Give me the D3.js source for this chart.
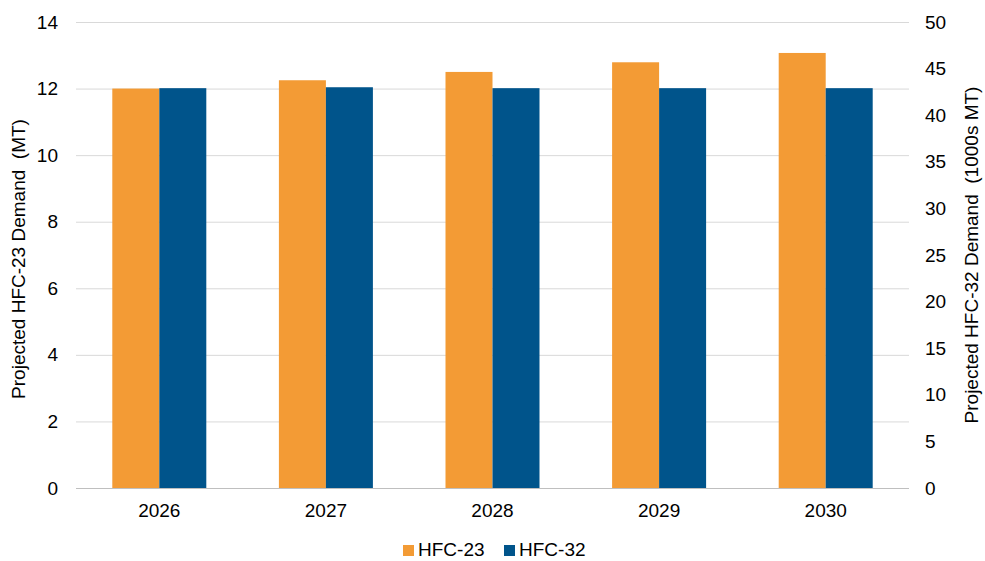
<!DOCTYPE html>
<html lang="en">
<head>
  <script src="https://d3js.org/d3.v7.min.js"></script>
  <style>
    body { margin: 0; background: #fff; }
    text { font-family: "Liberation Sans", Arial, sans-serif; fill: #000; }
  </style>
</head>
<body>
  <div id="chart"></div>
  <script>
    // Data
    const years = ["2026", "2027", "2028", "2029", "2030"];
    const hfc23 = [12.0, 12.25, 12.5, 12.79, 13.07];   // MT, left axis
    const hfc32 = [42.9, 43.0, 42.9, 42.9, 42.9];      // 1000s MT, right axis
    const leftTicks = [0, 2, 4, 6, 8, 10, 12, 14];
    const rightTicks = [0, 5, 10, 15, 20, 25, 30, 35, 40, 45, 50];

    const width = 985, height = 561;
    const plotL = 76, plotR = 909, plotT = 22, plotB = 488;
    const fs = "19px";

    const svg = d3.select("#chart").append("svg")
      .attr("width", width).attr("height", height);

    const x = d3.scaleBand().domain(years).range([plotL, plotR]);
    const yL = d3.scaleLinear().domain([0, 14]).range([plotB, plotT]);
    const yR = d3.scaleLinear().domain([0, 50]).range([plotB, plotT]);

    // gridlines
    svg.append("g").selectAll("line").data(leftTicks).join("line")
      .attr("x1", plotL).attr("x2", plotR)
      .attr("y1", d => yL(d) + 0.5).attr("y2", d => yL(d) + 0.5)
      .attr("stroke", "#d9d9d9").attr("stroke-width", 1);

    // bars
    const barW = 47;
    const g = svg.append("g");
    g.selectAll(".b23").data(years).join("rect")
      .attr("x", (d) => x(d) + x.bandwidth() / 2 - barW)
      .attr("width", barW)
      .attr("y", (d, i) => yL(hfc23[i]))
      .attr("height", (d, i) => plotB - yL(hfc23[i]))
      .attr("fill", "#f39b35");
    g.selectAll(".b32").data(years).join("rect")
      .attr("x", (d) => x(d) + x.bandwidth() / 2)
      .attr("width", barW)
      .attr("y", (d, i) => yR(hfc32[i]))
      .attr("height", (d, i) => plotB - yR(hfc32[i]))
      .attr("fill", "#00548b");

    // baseline
    svg.append("line")
      .attr("x1", plotL).attr("x2", plotR)
      .attr("y1", plotB + 0.5).attr("y2", plotB + 0.5)
      .attr("stroke", "#bfbfbf");

    // left axis
    const axL = svg.append("g")
      .attr("transform", `translate(${plotL},0)`)
      .call(d3.axisLeft(yL).tickValues(leftTicks).tickSize(0).tickPadding(18));
    axL.select(".domain").remove();
    axL.selectAll("text").style("font-size", fs);

    // right axis
    const axR = svg.append("g")
      .attr("transform", `translate(${plotR},0)`)
      .call(d3.axisRight(yR).tickValues(rightTicks).tickSize(0).tickPadding(16));
    axR.select(".domain").remove();
    axR.selectAll("text").style("font-size", fs);

    // x axis
    const axX = svg.append("g")
      .attr("transform", `translate(0,${plotB})`)
      .call(d3.axisBottom(x).tickSize(0).tickPadding(16));
    axX.select(".domain").remove();
    axX.selectAll("text").style("font-size", fs);

    // axis titles
    svg.append("text")
      .attr("transform", `translate(25,${(plotT + plotB) / 2 + 4}) rotate(-90)`)
      .attr("text-anchor", "middle")
      .style("font-size", fs)
      .style("white-space", "pre")
      .text("Projected HFC-23 Demand  (MT)");
    svg.append("text")
      .attr("transform", `translate(978,${(plotT + plotB) / 2}) rotate(-90)`)
      .attr("text-anchor", "middle")
      .style("font-size", fs)
      .style("white-space", "pre")
      .text("Projected HFC-32 Demand  (1000s MT)");

    // legend
    const legend = [
      { name: "HFC-23", color: "#f39b35", x: 403 },
      { name: "HFC-32", color: "#00548b", x: 504 }
    ];
    const lg = svg.append("g").selectAll("g").data(legend).join("g")
      .attr("transform", d => `translate(${d.x},545)`);
    lg.append("rect").attr("width", 11).attr("height", 11)
      .attr("fill", d => d.color);
    lg.append("text").attr("x", 15).attr("y", 11)
      .style("font-size", fs)
      .text(d => d.name);
  </script>
</body>
</html>
